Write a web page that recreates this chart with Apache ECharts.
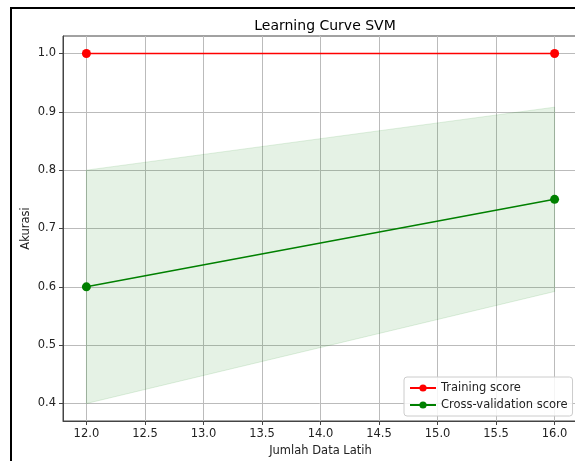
<!DOCTYPE html>
<html>
<head>
<meta charset="utf-8">
<script src="https://cdn.jsdelivr.net/npm/echarts@6/dist/echarts.min.js"></script>
<style>
  html, body { margin: 0; padding: 0; background: #fff; }
  #chart { width: 575px; height: 461px; }
</style>
</head>
<body>
<div id="chart"></div>
<script>
// data
var trainSizes = [12, 16];
var trainMean = [1.0, 1.0];
var testMean = [0.6, 0.75];
var testStd = [0.2, 0.158];
var xTicks = [12, 12.5, 13, 13.5, 14, 14.5, 15, 15.5, 16];
var yTicks = [0.4, 0.5, 0.6, 0.7, 0.8, 0.9, 1.0];

function pairs(xs, ys) {
    var out = [];
    for (var i = 0; i < xs.length; i++) out.push([xs[i], ys[i]]);
    return out;
}

// band rows: x, mean - std, mean + std
var band = [];
for (var i = 0; i < testMean.length; i++) {
    band.push([trainSizes[i], testMean[i] - testStd[i], testMean[i] + testStd[i]]);
}

function renderBand(params, api) {
    var i = params.dataIndex;
    if (i >= band.length - 1) return null;
    var a = band[i], b = band[i + 1];
    var pts = [
        api.coord([a[0], a[1]]),
        api.coord([b[0], b[1]]),
        api.coord([b[0], b[2]]),
        api.coord([a[0], a[2]])
    ];
    return {
        type: 'polygon',
        shape: { points: pts },
        style: { fill: 'rgba(0,128,0,0.1)', stroke: 'rgba(0,128,0,0.12)', lineWidth: 1 }
    };
}

var font = 'DejaVu Sans';
var chart = echarts.init(document.getElementById('chart'));

chart.setOption({
    animation: false,
    textStyle: { fontFamily: font },
    title: {
        text: 'Learning Curve SVM',
        left: 320, top: 14, textAlign: 'center',
        textStyle: { fontSize: 14, fontWeight: 'normal', color: '#000', fontFamily: font }
    },
    graphic: [{
        type: 'rect',
        shape: { x: 11, y: 8, width: 700, height: 600 },
        style: { fill: 'none', stroke: '#000', lineWidth: 2 },
        silent: true
    }],
    grid: {
        left: 63, top: 36, width: 515, height: 385,
        outerBoundsMode: 'none',
        show: true, borderColor: '#444', borderWidth: 1
    },
    legend: {
        left: 404, top: 377,
        orient: 'vertical',
        itemGap: 5, itemWidth: 26, itemHeight: 9,
        padding: [5, 5, 5, 5],
        backgroundColor: 'rgba(255,255,255,0.85)',
        borderColor: '#ccc', borderWidth: 1, borderRadius: 3,
        textStyle: { fontSize: 11.5, color: '#222', fontFamily: font },
        data: ['Training score', 'Cross-validation score']
    },
    xAxis: {
        type: 'value', min: 11.8, max: 16.2,
        name: 'Jumlah Data Latih', nameLocation: 'middle', nameGap: 23,
        nameTextStyle: { fontSize: 11.5, color: '#222', fontFamily: font },
        axisLine: { onZero: false, lineStyle: { color: '#444' } },
        axisTick: { customValues: xTicks, length: 4, lineStyle: { color: '#444' } },
        axisLabel: {
            customValues: xTicks, fontSize: 11.5, color: '#222', margin: 7,
            formatter: function (v) { return v.toFixed(1); }
        },
        splitLine: { show: true, lineStyle: { color: '#bbb', width: 1 } }
    },
    yAxis: {
        type: 'value', min: 0.37, max: 1.03,
        name: 'Akurasi', nameLocation: 'middle', nameGap: 31,
        nameMoveOverlap: false,
        nameTextStyle: { fontSize: 11.5, color: '#222', fontFamily: font },
        axisLine: { show: true, onZero: false, lineStyle: { color: '#444' } },
        axisTick: { show: true, customValues: yTicks, length: 4, lineStyle: { color: '#444' } },
        axisLabel: {
            customValues: yTicks, fontSize: 11.5, color: '#222', margin: 7,
            formatter: function (v) { return v.toFixed(1); }
        },
        splitLine: { show: true, lineStyle: { color: '#bbb', width: 1 } }
    },
    series: [{
        name: 'band',
        type: 'custom', silent: true, z: 1,
        renderItem: renderBand,
        encode: { x: 0, y: [1, 2] },
        data: band
    }, {
        name: 'Training score',
        type: 'line', symbol: 'circle', symbolSize: 9, z: 3,
        color: '#ff0000',
        lineStyle: { width: 1.5, color: '#ff0000' },
        itemStyle: { color: '#ff0000' },
        data: pairs(trainSizes, trainMean)
    }, {
        name: 'Cross-validation score',
        type: 'line', symbol: 'circle', symbolSize: 9, z: 3,
        color: '#008000',
        lineStyle: { width: 1.5, color: '#008000' },
        itemStyle: { color: '#008000' },
        data: pairs(trainSizes, testMean)
    }]
});
</script>
</body>
</html>
